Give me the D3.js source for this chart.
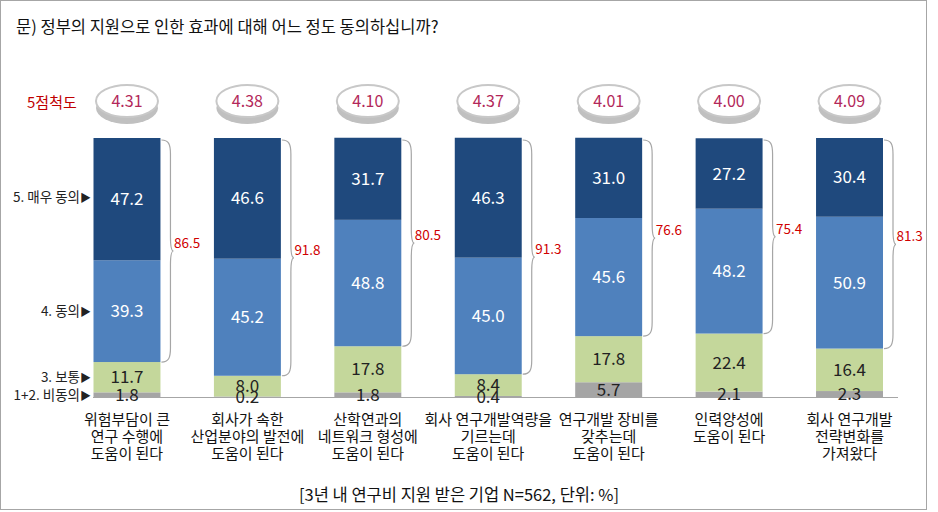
<!DOCTYPE html>
<html><head><meta charset="utf-8">
<script src="https://cdn.jsdelivr.net/npm/d3@7"></script>
<style>
html,body{margin:0;padding:0;background:#fff;}
svg{display:block;font-family:"Noto Sans CJK KR","Noto Sans",sans-serif;}
</style></head>
<body><svg id="c" width="938" height="512"></svg>
<script>
const title = "문) 정부의 지원으로 인한 효과에 대해 어느 정도 동의하십니까?";
const footer = "[3년 내 연구비 지원 받은 기업 N=562, 단위: %]";
const categories = [
  ["위험부담이 큰","연구 수행에","도움이 된다"],
  ["회사가 속한","산업분야의 발전에","도움이 된다"],
  ["산학연과의","네트워크 형성에","도움이 된다"],
  ["회사 연구개발역량을","기르는데","도움이 된다"],
  ["연구개발 장비를","갖추는데","도움이 된다"],
  ["인력양성에","도움이 된다"],
  ["회사 연구개발","전략변화를","가져왔다"]
];
const seriesNames = ["1+2. 비동의","3. 보통","4. 동의","5. 매우 동의"];
const disagree = [1.8, 0.2, 1.8, 0.4, 5.7, 2.1, 2.3];
const neutral  = [11.7, 8.0, 17.8, 8.4, 17.8, 22.4, 16.4];
const agree    = [39.3, 45.2, 48.8, 45.0, 45.6, 48.2, 50.9];
const strongly = [47.2, 46.6, 31.7, 46.3, 31.0, 27.2, 30.4];
const agreeTotal = [86.5, 91.8, 80.5, 91.3, 76.6, 75.4, 81.3];
const means = [4.31, 4.38, 4.10, 4.37, 4.01, 4.00, 4.09];
const scaleLabel = "5점척도";

const colors = ["#a5a5a5","#c4d79b","#4f81bd","#1f497d"];
const textColors = ["#222","#222","#fff","#fff"];
const seriesData = [disagree, neutral, agree, strongly];

const svg = d3.select("#c");
// frame
svg.append("rect").attr("x",0.5).attr("y",0.5).attr("width",926).attr("height",509)
  .attr("fill","#fff").attr("stroke","#a6a6a6").attr("stroke-width",1);

svg.append("text").attr("x",16).attr("y",33).attr("font-size",16.5).attr("fill","#111").text(title);

const idx = d3.range(categories.length);
const x = d3.scaleBand().domain(idx).range([93.5, 883]).paddingInner(0.444).paddingOuter(0);
const y = d3.scaleLinear().domain([0,100]).range([397, 138]);

const rows = idx.map(i => {
  const o = {i};
  seriesData.forEach((s,k)=>o["s"+k]=s[i]);
  return o;
});
const stack = d3.stack().keys(["s0","s1","s2","s3"])(rows);

// bars
stack.forEach((layer,k)=>{
  svg.append("g").selectAll("rect").data(layer).join("rect")
    .attr("x", d=>x(d.data.i)).attr("width", x.bandwidth())
    .attr("y", d=>y(d[1])).attr("height", d=>y(d[0])-y(d[1]))
    .attr("fill", colors[k]);
});

// axis baseline
svg.append("line").attr("x1",93).attr("x2",898).attr("y1",y(0)+0.5).attr("y2",y(0)+0.5)
  .attr("stroke","#a6a6a6").attr("stroke-width",1.2);

// value labels
stack.forEach((layer,k)=>{
  svg.append("g").selectAll("text").data(layer).join("text")
    .attr("x", d=>x(d.data.i)+x.bandwidth()/2)
    .attr("y", d=>(y(d[0])+y(d[1]))/2)
    .attr("dy","0.36em")
    .attr("text-anchor","middle").attr("font-size",17)
    .attr("fill", textColors[k])
    .text(d=>seriesData[k][d.data.i].toFixed(1));
});

// left series labels aligned to first bar
stack.forEach((layer,k)=>{
  const d = layer[0];
  const t = svg.append("text").attr("x",91).attr("y",(y(d[0])+y(d[1]))/2 + (k===3?-2:0))
    .attr("dy","0.36em").attr("text-anchor","end").attr("font-size",13.5).attr("fill","#222");
  t.append("tspan").text(seriesNames[k]);
  t.append("tspan").attr("font-size",11).text("▶");
});

// braces
idx.forEach(i=>{
  const x0 = x(i)+x.bandwidth()+1;
  const y1 = y(100)+2;
  const y2 = y(disagree[i]+neutral[i]);
  const ym = (y1+y2)/2;
  const w = 9, tip = 3, r = 14;
  const p = d3.path();
  p.moveTo(x0,y1);
  p.bezierCurveTo(x0+w*0.8,y1,x0+w,y1+r*0.3,x0+w,y1+r);
  p.lineTo(x0+w,ym-r);
  p.quadraticCurveTo(x0+w,ym,x0+w+tip,ym);
  p.quadraticCurveTo(x0+w,ym,x0+w,ym+r);
  p.lineTo(x0+w,y2-r);
  p.bezierCurveTo(x0+w,y2-r*0.3,x0+w*0.8,y2,x0,y2);
  svg.append("path").attr("d",p.toString()).attr("fill","none")
    .attr("stroke","#a6a6a6").attr("stroke-width",1.2);
  svg.append("text").attr("x",x0+w+tip+0.5).attr("y",ym-3)
    .attr("font-size",13.5).attr("fill","#d00000").text(agreeTotal[i].toFixed(1));
});

// means ellipses
svg.append("text").attr("x",27).attr("y",103).attr("dy","0.36em").attr("font-size",15)
  .attr("fill","#c00000").text(scaleLabel);
const eg = svg.append("g").selectAll("g").data(idx).join("g")
  .attr("transform", i=>`translate(${x(i)+x.bandwidth()/2},101)`);
eg.append("ellipse").attr("cx",0).attr("cy",7).attr("rx",31).attr("ry",16).attr("fill","#c0c0c0");
eg.append("ellipse").attr("cx",0).attr("cy",0).attr("rx",31).attr("ry",16)
  .attr("fill","#fff").attr("stroke","#c8c8c8").attr("stroke-width",2);
eg.append("text").attr("text-anchor","middle").attr("dy","0.36em").attr("font-size",16)
  .attr("fill","#b3285a").text(i=>means[i].toFixed(2));

// category labels
const cg = svg.append("g").selectAll("text").data(idx).join("text")
  .attr("text-anchor","middle").attr("font-size",15).attr("fill","#111");
cg.each(function(i){
  const t = d3.select(this);
  categories[i].forEach((line,j)=>{
    t.append("tspan").attr("x",x(i)+x.bandwidth()/2).attr("y",420+j*17).attr("dy","0.36em").text(line);
  });
});

svg.append("text").attr("x",459).attr("y",495).attr("dy","0.36em").attr("text-anchor","middle")
  .attr("font-size",16.5).attr("fill","#111").text(footer);
</script></body></html>
